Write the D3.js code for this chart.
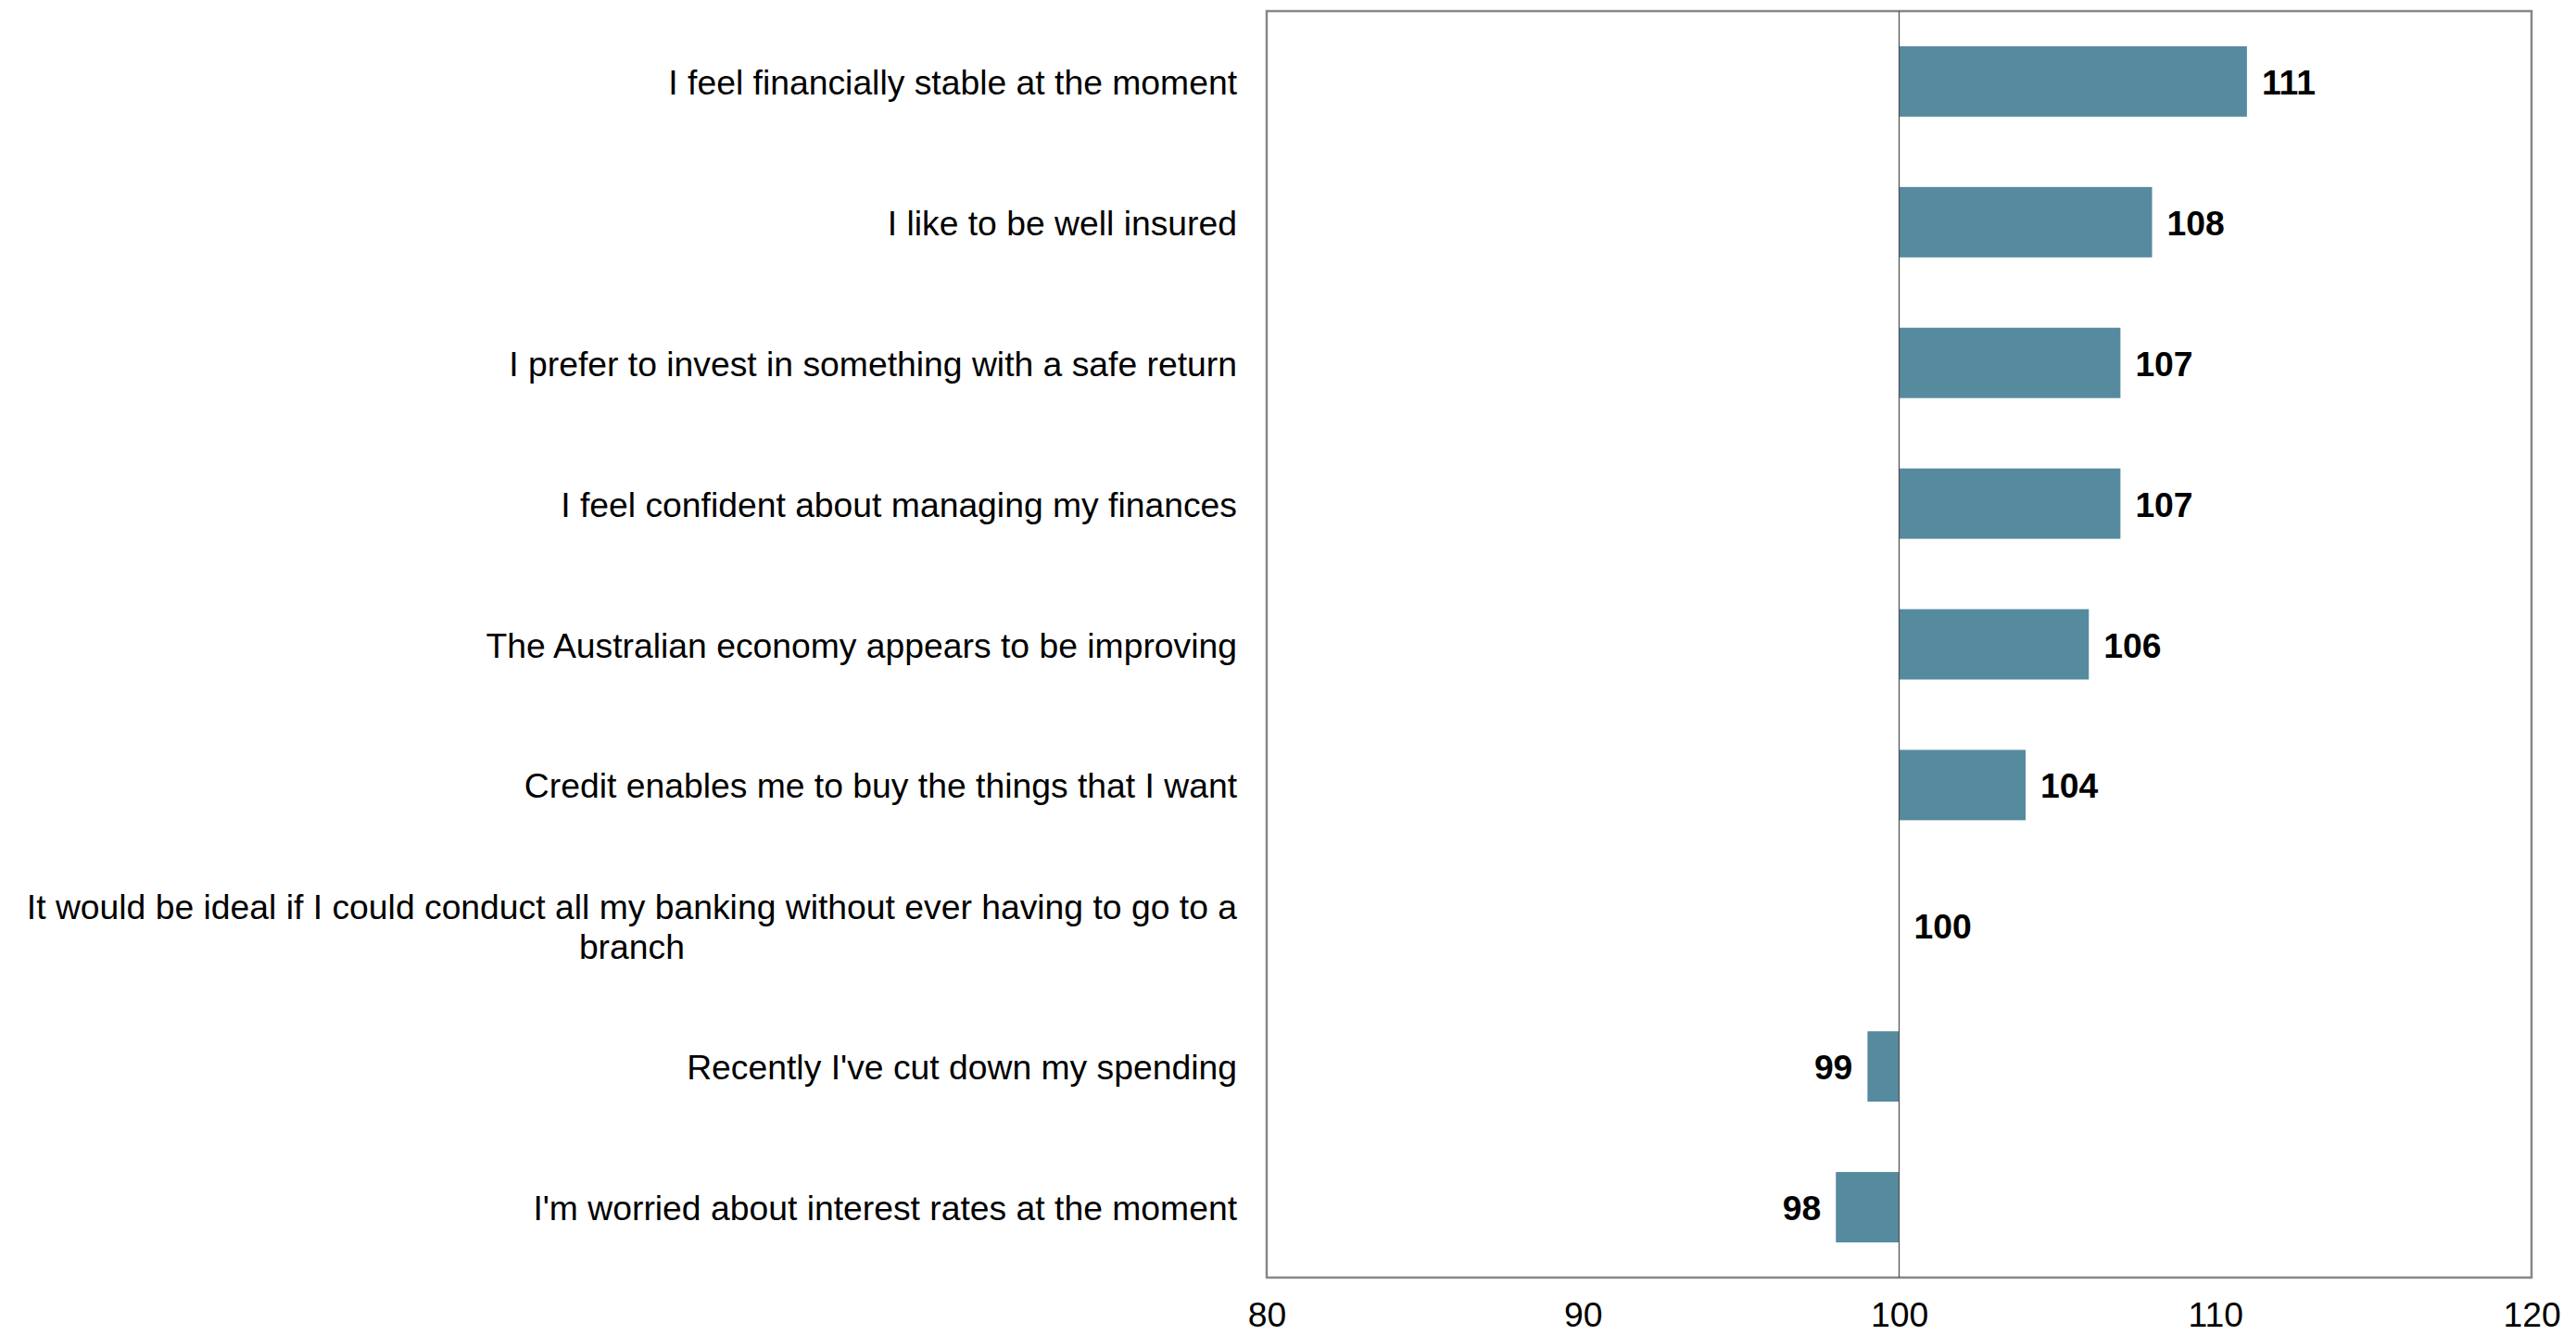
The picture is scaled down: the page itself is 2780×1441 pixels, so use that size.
<!DOCTYPE html>
<html>
<head>
<meta charset="utf-8">
<script src="https://cdn.jsdelivr.net/npm/d3@7"></script>
<style>
  html, body { margin: 0; padding: 0; background: #fff; }
  svg { display: block; }
  text { font-family: "Liberation Sans", Arial, sans-serif; }
</style>
</head>
<body>
<svg id="chart" width="2780" height="1441"></svg>
<script>
const categories = [
  "I feel financially stable at the moment",
  "I like to be well insured",
  "I prefer to invest in something with a safe return",
  "I feel confident about managing my finances",
  "The Australian economy appears to be improving",
  "Credit enables me to buy the things that I want",
  "It would be ideal if I could conduct all my banking without ever having to go to a branch",
  "Recently I've cut down my spending",
  "I'm worried about interest rates at the moment"
];
const categoryLines = [
  ["I feel financially stable at the moment"],
  ["I like to be well insured"],
  ["I prefer to invest in something with a safe return"],
  ["I feel confident about managing my finances"],
  ["The Australian economy appears to be improving"],
  ["Credit enables me to buy the things that I want"],
  ["It would be ideal if I could conduct all my banking without ever having to go to a", "branch"],
  ["Recently I've cut down my spending"],
  ["I'm worried about interest rates at the moment"]
];
const values = [111, 108, 107, 107, 106, 104, 100, 99, 98];
const xTicks = [80, 90, 100, 110, 120];
const baseline = 100;

const margin = {left: 1367, right: 48, top: 12, bottom: 62};
const W = 2780, H = 1441;
const svg = d3.select("#chart");
const FS = 37.3;

const x = d3.scaleLinear().domain([80, 120]).range([margin.left, W - margin.right]);
const y = d3.scaleBand().domain(categories).range([margin.top, H - margin.bottom]).paddingInner(0.5).paddingOuter(0.25);

// frame
svg.append("rect")
  .attr("x", x(80)).attr("y", margin.top)
  .attr("width", x(120) - x(80)).attr("height", H - margin.bottom - margin.top)
  .attr("fill", "none").attr("stroke", "#878787").attr("stroke-width", 2.5);

// bars
svg.append("g").selectAll("rect").data(values).join("rect")
  .attr("x", (d) => x(Math.min(d, baseline)))
  .attr("y", (d, i) => y(categories[i]))
  .attr("width", (d) => Math.abs(x(d) - x(baseline)))
  .attr("height", y.bandwidth())
  .attr("fill", "#568a9f");

// baseline line
svg.append("line")
  .attr("x1", x(baseline)).attr("x2", x(baseline))
  .attr("y1", margin.top).attr("y2", H - margin.bottom)
  .attr("stroke", "#555").attr("stroke-width", 1.3);

// value labels
svg.append("g").selectAll("text").data(values).join("text")
  .attr("x", (d) => d >= baseline ? x(d) + 16 : x(d) - 16)
  .attr("y", (d, i) => y(categories[i]) + y.bandwidth() / 2 + 1)
  .attr("dy", "0.35em")
  .attr("text-anchor", (d) => d >= baseline ? "start" : "end")
  .attr("font-size", FS).attr("font-weight", "bold").attr("fill", "#000")
  .text((d) => d);

// category labels
const labelRight = 1335;
const lineH = 43;
const cg = svg.append("g");
categoryLines.forEach((lines, i) => {
  const cy = y(categories[i]) + y.bandwidth() / 2 + 1;
  if (lines.length === 1) {
    cg.append("text").attr("x", labelRight).attr("y", cy).attr("dy", "0.35em")
      .attr("text-anchor", "end").attr("font-size", FS).attr("fill", "#000").text(lines[0]);
  } else {
    const t = cg.append("text").attr("font-size", FS).attr("fill", "#000").attr("text-anchor", "middle");
    const tmp = cg.append("text").attr("font-size", FS).text(lines[0]);
    const w = tmp.node().getComputedTextLength();
    tmp.remove();
    const cx = labelRight - w / 2;
    lines.forEach((ln, j) => {
      t.append("tspan").attr("x", cx)
        .attr("y", cy + (j - (lines.length - 1) / 2) * lineH)
        .attr("dy", "0.35em").text(ln);
    });
  }
});

// x axis
const xAxis = d3.axisBottom(x).tickValues(xTicks).tickSize(0).tickPadding(0);
const ax = svg.append("g").attr("transform", `translate(0, ${H - margin.bottom})`).call(xAxis);
ax.select(".domain").remove();
ax.selectAll("text").attr("font-size", FS).attr("fill", "#000")
  .attr("font-family", "'Liberation Sans', Arial, sans-serif")
  .attr("y", 40).attr("dy", "0.35em");
</script>
</body>
</html>
